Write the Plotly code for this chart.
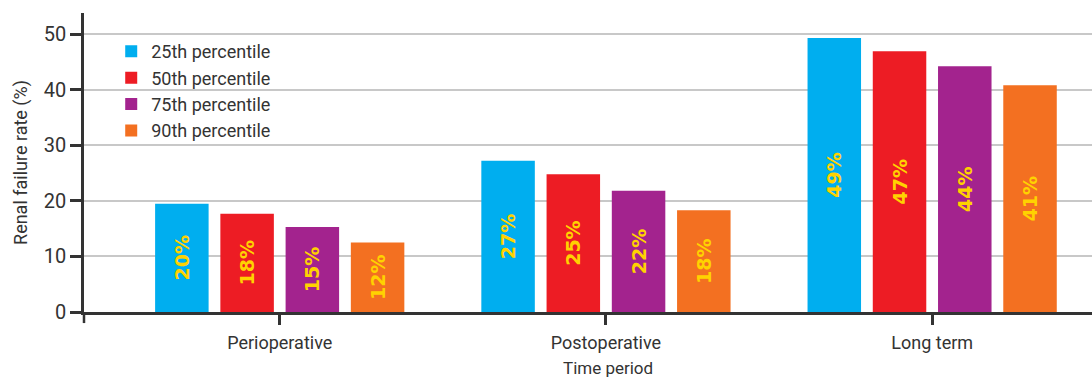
import plotly.graph_objects as go

categories = ["Perioperative", "Postoperative", "Long term"]
series_names = ["25th percentile", "50th percentile", "75th percentile", "90th percentile"]
values_25 = [19.5, 27.2, 49.3]
values_50 = [17.7, 24.8, 46.9]
values_75 = [15.3, 21.8, 44.2]
values_90 = [12.5, 18.3, 40.8]
labels_25 = ["20%", "27%", "49%"]
labels_50 = ["18%", "25%", "47%"]
labels_75 = ["15%", "22%", "44%"]
labels_90 = ["12%", "18%", "41%"]
y_ticks = [0, 10, 20, 30, 40, 50]

colors = ["#00AEEF", "#ED1C24", "#A3238E", "#F37021"]
series_values = [values_25, values_50, values_75, values_90]
series_labels = [labels_25, labels_50, labels_75, labels_90]

fig = go.Figure()
for name, vals, labs, col in zip(series_names, series_values, series_labels, colors):
    fig.add_trace(go.Bar(
        name=name, x=categories, y=vals, text=labs,
        marker=dict(color=col, line=dict(width=0)),
        textposition="inside", insidetextanchor="middle", textangle=-90,
        textfont=dict(family="DejaVu Sans", size=19, color="#FFD200", weight="bold"),
        hoverinfo="skip",
    ))

fig.update_layout(
    width=1092, height=381,
    margin=dict(l=84, r=0, t=13, b=69),
    paper_bgcolor="white", plot_bgcolor="white",
    barmode="group", bargap=0.2, bargroupgap=0.18,
    font=dict(family="Roboto", color="#333333"),
    showlegend=True,
    legend=dict(x=0.027, y=0.933, xanchor="left", yanchor="top",
                font=dict(size=18, color="#333333"), bgcolor="rgba(0,0,0,0)",
                tracegroupgap=0, itemwidth=30),
    shapes=[dict(type="line", xref="paper", yref="paper", x0=0, x1=0, y0=0, y1=-0.037,
                 line=dict(color="#333333", width=2.5))],
    annotations=[dict(text="Time period", xref="paper", yref="paper", x=0.52, y=-0.188,
                      xanchor="center", yanchor="middle", showarrow=False,
                      font=dict(size=17, color="#333333"))],
)
fig.update_xaxes(
    range=[-0.6, 2.49], showline=True, linecolor="#333333", linewidth=2.5,
    ticks="outside", ticklen=10, tickwidth=2.5, tickcolor="#333333",
    tickfont=dict(size=18, color="#333333"), ticklabelstandoff=3,
)
fig.update_yaxes(
    range=[0, 53.8], tickvals=y_ticks, showline=True, linecolor="#333333", linewidth=2.5,
    ticks="outside", ticklen=11, tickwidth=2.5, tickcolor="#333333",
    tickfont=dict(size=20, color="#333333"),
    showgrid=True, gridcolor="#c8c8c8", gridwidth=1.5, zeroline=False,
    title=dict(text="Renal failure rate (%)", font=dict(size=18, color="#333333"), standoff=12),
)
fig.write_html("out.html")
